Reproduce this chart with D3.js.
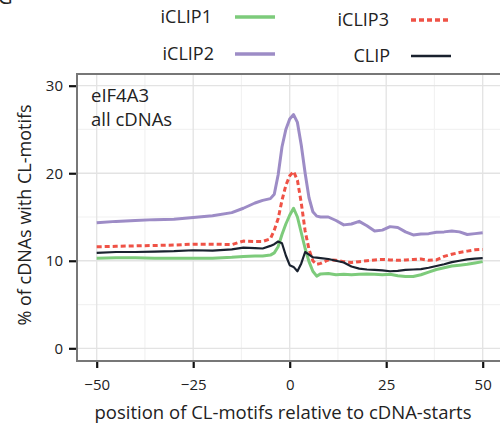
<!DOCTYPE html>
<html>
<head>
<meta charset="utf-8">
<script src="https://cdn.jsdelivr.net/npm/d3@7/dist/d3.min.js"></script>
<style>
  body { margin: 0; background: #fff; }
  svg { display: block; font-family: "Open Sans", sans-serif; }
</style>
</head>
<body>
<div id="chart"></div>
<script>
// positions relative to cDNA starts
const positions = [-50, -45, -40, -35, -30, -25, -20, -15, -12, -9, -7, -5, -4, -3, -2, -1, 0, 1, 2, 3, 4, 5, 6, 7, 8,
    10, 12, 14, 16, 18, 20, 22, 24, 26, 28, 30, 32, 34, 36, 38, 40, 42, 44, 46, 48, 50];

const iclip1 = [10.3, 10.35, 10.35, 10.3, 10.3, 10.3, 10.3, 10.4, 10.5, 10.55, 10.55, 10.65, 10.9, 11.6, 13.0, 14.2, 15.2, 16.0, 15.0, 13.2, 11.4, 9.9, 8.8, 8.25, 8.5,
    8.55, 8.4, 8.45, 8.4, 8.45, 8.5, 8.45, 8.4, 8.45, 8.3, 8.2, 8.2, 8.4, 8.7, 9.0, 9.2, 9.4, 9.5, 9.6, 9.75, 9.9];
const iclip2 = [14.35, 14.5, 14.6, 14.7, 14.75, 14.95, 15.15, 15.5, 16.0, 16.6, 16.9, 17.1, 17.6, 19.8, 23.0, 25.0, 26.2, 26.7, 25.8, 23.2, 20.0, 17.2, 15.6, 15.1, 15.0,
    15.0, 14.6, 14.1, 14.2, 14.5, 14.0, 13.4, 13.5, 13.9, 13.8, 13.3, 12.95, 13.05, 13.1, 13.25, 13.3, 13.4, 13.3, 13.0, 13.1, 13.2];
const iclip3 = [11.6, 11.65, 11.7, 11.75, 11.8, 11.9, 11.9, 11.85, 12.25, 12.2, 12.2, 12.5, 13.5, 14.8, 16.9, 18.6, 19.7, 20.2, 19.2, 16.6, 13.4, 11.3, 10.0, 9.6, 9.7,
    10.1, 10.05, 9.9, 9.8, 9.9, 10.0, 10.1, 10.15, 10.1, 10.05, 10.1, 10.15, 10.2, 10.05, 10.1, 10.5, 10.75, 10.95, 11.1, 11.25, 11.3];
const clip = [10.9, 11.0, 11.0, 11.05, 11.1, 11.2, 11.15, 11.3, 11.5, 11.45, 11.4, 11.7, 11.9, 12.2, 12.0, 10.6, 9.5, 9.3, 8.8, 9.7, 11.0, 10.7, 10.4, 10.35, 10.3,
    10.2, 10.0, 9.8, 9.35, 9.1, 9.0, 8.95, 8.9, 8.8, 8.85, 8.95, 9.0, 9.05, 9.2, 9.4, 9.6, 9.85, 10.0, 10.15, 10.25, 10.3];

const xTicks = [-50, -25, 0, 25, 50];
const yTicks = [0, 10, 20, 30];

const series = [
    { name: 'iCLIP1', values: iclip1, color: '#7dcb7b', width: 3, dash: null },
    { name: 'iCLIP2', values: iclip2, color: '#9d8cc6', width: 3, dash: null },
    { name: 'iCLIP3', values: iclip3, color: '#ef5246', width: 3, dash: '5,3' },
    { name: 'CLIP', values: clip, color: '#19212e', width: 2.2, dash: null },
];

const W = 500, H = 430;
const panel = { left: 77, top: 74, right: 520, bottom: 361 };

const svg = d3.select('#chart').append('svg')
    .attr('width', W)
    .attr('height', H);

const x = d3.scaleLinear().domain([-50, 50]).range([96.7, 482.7]);
const y = d3.scaleLinear().domain([0, 30]).range([348.3, 85.7]);

// partial panel letter at top-left
svg.append('text')
    .attr('x', -2).attr('y', 4)
    .attr('font-size', 20)
    .attr('fill', '#222')
    .text('G');

// minor grid
const minorX = [-37.5, -12.5, 12.5, 37.5];
const minorY = [5, 15, 25];
svg.append('g').selectAll('line').data(minorX).join('line')
    .attr('x1', (d) => x(d)).attr('x2', (d) => x(d))
    .attr('y1', panel.top).attr('y2', panel.bottom)
    .attr('stroke', '#f2f2f2').attr('stroke-width', 1.2);
svg.append('g').selectAll('line').data(minorY).join('line')
    .attr('x1', panel.left).attr('x2', panel.right)
    .attr('y1', (d) => y(d)).attr('y2', (d) => y(d))
    .attr('stroke', '#f2f2f2').attr('stroke-width', 1.2);

// major grid
svg.append('g').selectAll('line').data(xTicks).join('line')
    .attr('x1', (d) => x(d)).attr('x2', (d) => x(d))
    .attr('y1', panel.top).attr('y2', panel.bottom)
    .attr('stroke', '#e3e3e3').attr('stroke-width', 1.3);
svg.append('g').selectAll('line').data(yTicks).join('line')
    .attr('x1', panel.left).attr('x2', panel.right)
    .attr('y1', (d) => y(d)).attr('y2', (d) => y(d))
    .attr('stroke', '#e3e3e3').attr('stroke-width', 1.3);

// panel border
svg.append('rect')
    .attr('x', panel.left).attr('y', panel.top)
    .attr('width', panel.right - panel.left)
    .attr('height', panel.bottom - panel.top)
    .attr('fill', 'none')
    .attr('stroke', '#777').attr('stroke-width', 2);

// lines
const line = d3.line()
    .x((d, i) => x(positions[i]))
    .y((d) => y(d));

svg.append('g').selectAll('path').data(series).join('path')
    .attr('d', (d) => line(d.values))
    .attr('fill', 'none')
    .attr('stroke', (d) => d.color)
    .attr('stroke-width', (d) => d.width)
    .attr('stroke-dasharray', (d) => d.dash)
    .attr('stroke-linejoin', 'round');

// axes
const xAxis = svg.append('g')
    .attr('transform', 'translate(0,' + (panel.bottom + 1) + ')')
    .call(d3.axisBottom(x).tickValues(xTicks).tickSize(6).tickPadding(11)
        .tickFormat((d) => d3.format('d')(d).replace('-', '\u2212')));
const yAxis = svg.append('g')
    .attr('transform', 'translate(' + (panel.left - 1) + ',0)')
    .call(d3.axisLeft(y).tickValues(yTicks).tickSize(7).tickPadding(6));

[xAxis, yAxis].forEach((g) => {
    g.select('.domain').remove();
    g.selectAll('.tick line').attr('stroke', '#111').attr('stroke-width', 2.2);
    g.selectAll('.tick text')
        .attr('font-family', '"Open Sans", sans-serif')
        .attr('font-size', 15)
        .attr('fill', '#222');
});

// axis titles
svg.append('text')
    .attr('x', 283).attr('y', 419)
    .attr('text-anchor', 'middle')
    .attr('font-size', 18.5)
    .attr('fill', '#222')
    .text('position of CL-motifs relative to cDNA-starts');

svg.append('text')
    .attr('transform', 'translate(31,215) rotate(-90)')
    .attr('text-anchor', 'middle')
    .attr('font-size', 18)
    .attr('fill', '#222')
    .text('% of cDNAs with CL-motifs');

// panel annotation
svg.append('text')
    .attr('x', 91).attr('y', 102)
    .attr('font-size', 18.5)
    .attr('fill', '#222')
    .text('eIF4A3');
svg.append('text')
    .attr('x', 91).attr('y', 126)
    .attr('font-size', 18.5)
    .attr('fill', '#222')
    .text('all cDNAs');

// legend: two columns, two rows
const legendPos = [
    { tx: 212, ty: 17, lx: 235 },
    { tx: 214, ty: 54, lx: 235 },
    { tx: 389, ty: 20, lx: 411 },
    { tx: 390, ty: 56, lx: 411 },
];
const legend = svg.append('g').selectAll('g').data(series).join('g')
    .attr('transform', (d, i) => 'translate(0,' + legendPos[i].ty + ')');
legend.append('text')
    .attr('x', (d, i) => legendPos[i].tx)
    .attr('y', 0)
    .attr('dy', '0.35em')
    .attr('text-anchor', 'end')
    .attr('font-size', 18)
    .attr('fill', '#222')
    .text((d) => d.name);
legend.append('line')
    .attr('x1', (d, i) => legendPos[i].lx)
    .attr('x2', (d, i) => legendPos[i].lx + 40)
    .attr('y1', 0).attr('y2', 0)
    .attr('stroke', (d) => d.color)
    .attr('stroke-width', (d) => d.width + 0.5)
    .attr('stroke-dasharray', (d) => d.dash);
</script>
</body>
</html>
